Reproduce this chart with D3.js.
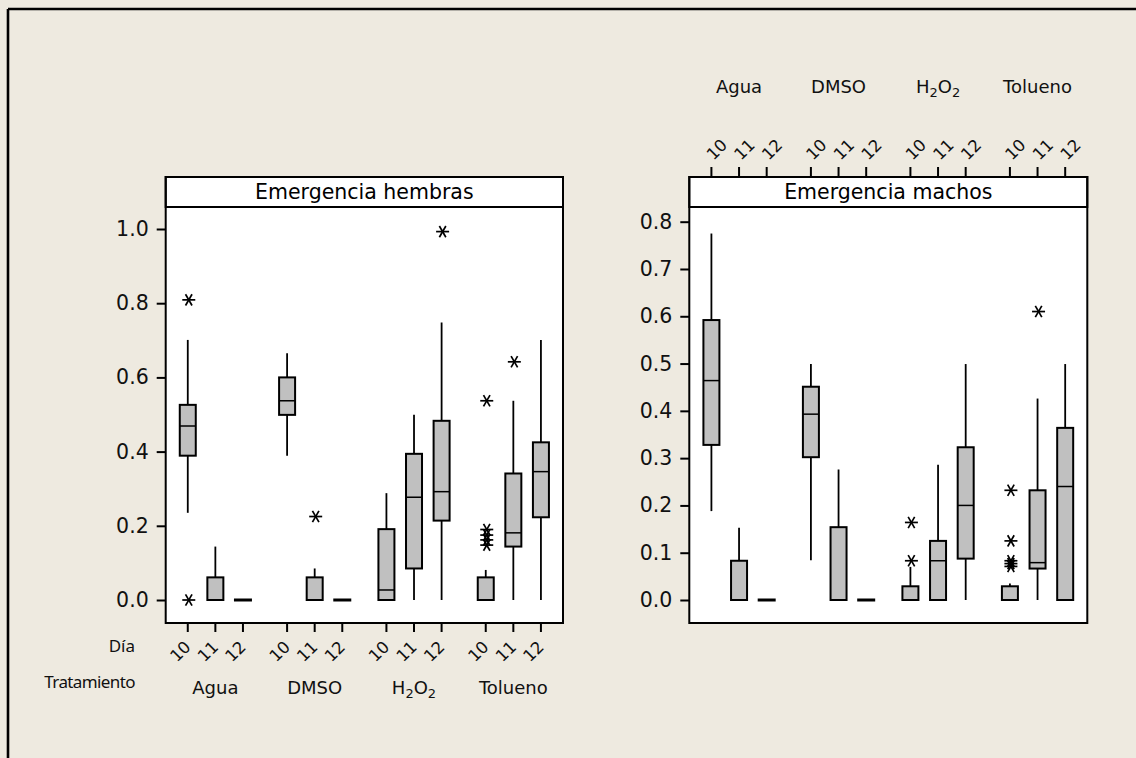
<!DOCTYPE html>
<html>
<head>
<meta charset="utf-8">
<script src="https://cdn.jsdelivr.net/npm/d3@7"></script>
<style>
  body { margin: 0; background: #EEEAE0; }
  svg { display: block; font-family: 'DejaVu Sans', sans-serif; }
</style>
</head>
<body>
<svg width="1136" height="758"></svg>
<script>
const treatments = ['Agua', 'DMSO', 'H2O2', 'Tolueno']
const days = ['10', '11', '12']

// order: Agua 10,11,12, DMSO 10,11,12, H2O2 ..., Tolueno ...
const hembrasLow = [0.235, 0, 0, 0.389, 0, 0, 0, 0, 0, 0, 0, 0]
const hembrasQ1 = [0.389, 0, 0, 0.499, 0, 0, 0, 0.085, 0.214, 0, 0.144, 0.223]
const hembrasMed = [0.469, 0, 0, 0.537, 0, 0, 0.027, 0.277, 0.292, 0, 0.181, 0.346]
const hembrasQ3 = [0.526, 0.061, 0, 0.600, 0.061, 0, 0.191, 0.394, 0.483, 0.061, 0.341, 0.425]
const hembrasHigh = [0.701, 0.144, 0, 0.665, 0.085, 0, 0.288, 0.499, 0.748, 0.081, 0.537, 0.701]
const hembrasOut = [[0.809, 0], [], [], [], [0.225], [], [], [], [0.993],
                    [0.537, 0.19, 0.175, 0.162, 0.148], [0.642], []]
const hembrasTicks = [0, 0.2, 0.4, 0.6, 0.8, 1.0]

const machosLow = [0.188, 0, 0, 0.084, 0, 0, 0, 0, 0, 0, 0, 0]
const machosQ1 = [0.328, 0, 0, 0.302, 0, 0, 0, 0, 0.0875, 0, 0.0665, 0]
const machosMed = [0.464, 0, 0, 0.393, 0, 0, 0, 0.083, 0.2, 0, 0.079, 0.24]
const machosQ3 = [0.592, 0.083, 0, 0.451, 0.154, 0, 0.029, 0.125, 0.323, 0.029, 0.232, 0.364]
const machosHigh = [0.775, 0.153, 0, 0.499, 0.276, 0, 0.07, 0.286, 0.499, 0.035, 0.426, 0.499]
const machosOut = [[], [], [], [], [], [], [0.164, 0.083], [], [],
                   [0.232, 0.125, 0.083, 0.077, 0.071], [0.61], []]
const machosTicks = [0, 0.1, 0.2, 0.3, 0.4, 0.5, 0.6, 0.7, 0.8]

const svg = d3.select('svg')

// outer frame (only left and top edges visible)
svg.append('line').attr('x1', 8).attr('y1', 9).attr('x2', 1136).attr('y2', 9)
   .attr('stroke', '#000').attr('stroke-width', 2.6)
svg.append('line').attr('x1', 8).attr('y1', 9).attr('x2', 8).attr('y2', 758)
   .attr('stroke', '#000').attr('stroke-width', 2.6)

const stripTop = 177
const stripBottom = 207
const panelBottom = 623
const boxWidth = 16

function treatLabel(sel, name) {
  if (name === 'H2O2') {
    sel.append('tspan').text('H')
    sel.append('tspan').attr('font-size', 13).attr('dy', 4).text('2')
    sel.append('tspan').attr('dy', -4).text('O')
    sel.append('tspan').attr('font-size', 13).attr('dy', 4).text('2')
  } else {
    sel.text(name)
  }
}

function drawPanel(opt) {
  const g = svg.append('g')
  const x0 = d3.scaleBand().domain(treatments).range([opt.left, opt.right])
  const xd = d3.scalePoint().domain(days).range([0, x0.bandwidth()]).padding(0.8)
  const y = d3.scaleLinear().domain(opt.domain).range(opt.range)
  const xPos = i => x0(treatments[Math.floor(i / 3)]) + xd(days[i % 3])

  // panel background
  g.append('rect').attr('x', opt.left).attr('y', stripBottom)
   .attr('width', opt.right - opt.left).attr('height', panelBottom - stripBottom)
   .attr('fill', '#fff')
  g.append('rect').attr('x', opt.left).attr('y', stripTop)
   .attr('width', opt.right - opt.left).attr('height', stripBottom - stripTop)
   .attr('fill', '#fff').attr('stroke', '#000').attr('stroke-width', 2)
  g.append('text').attr('x', (opt.left + opt.right) / 2).attr('y', stripBottom - 8)
   .attr('text-anchor', 'middle').attr('font-size', 20.5).text(opt.title)

  // y axis
  const ya = g.append('g').attr('transform', `translate(${opt.left},0)`)
    .call(d3.axisLeft(y).tickValues(opt.ticks).tickFormat(d3.format('.1f'))
      .tickSize(9).tickPadding(8))
  ya.select('.domain').remove()
  ya.selectAll('line').attr('stroke-width', 2)
  ya.selectAll('text').attr('font-size', 20.5).attr('font-family', 'DejaVu Sans')
    .attr('fill', '#111')

  const idx = d3.range(12)
  const lo = opt.low, q1 = opt.q1, md = opt.med, q3 = opt.q3, hi = opt.high

  // whiskers
  g.selectAll('.wh-hi').data(idx.filter(i => hi[i] > q3[i])).enter().append('line')
   .attr('x1', xPos).attr('x2', xPos)
   .attr('y1', i => y(q3[i])).attr('y2', i => y(hi[i]))
   .attr('stroke', '#000').attr('stroke-width', 1.8)
  g.selectAll('.wh-lo').data(idx.filter(i => lo[i] < q1[i])).enter().append('line')
   .attr('x1', xPos).attr('x2', xPos)
   .attr('y1', i => y(q1[i])).attr('y2', i => y(lo[i]))
   .attr('stroke', '#000').attr('stroke-width', 1.8)

  // boxes (flat ones drawn as a thick line)
  g.selectAll('.box').data(idx.filter(i => q3[i] > q1[i])).enter().append('rect')
   .attr('x', i => xPos(i) - boxWidth / 2).attr('width', boxWidth)
   .attr('y', i => y(q3[i])).attr('height', i => y(q1[i]) - y(q3[i]))
   .attr('fill', '#C0C0C0').attr('stroke', '#000').attr('stroke-width', 2)
  g.selectAll('.flat').data(idx.filter(i => q3[i] <= q1[i])).enter().append('line')
   .attr('x1', i => xPos(i) - boxWidth / 2 - 1).attr('x2', i => xPos(i) + boxWidth / 2 + 1)
   .attr('y1', i => y(q1[i])).attr('y2', i => y(q1[i]))
   .attr('stroke', '#000').attr('stroke-width', 3)
  g.selectAll('.med').data(idx.filter(i => md[i] > q1[i] && md[i] < q3[i])).enter().append('line')
   .attr('x1', i => xPos(i) - boxWidth / 2).attr('x2', i => xPos(i) + boxWidth / 2)
   .attr('y1', i => y(md[i])).attr('y2', i => y(md[i]))
   .attr('stroke', '#000').attr('stroke-width', 1.5)

  // outliers as asterisks
  const pts = []
  opt.out.forEach((arr, i) => arr.forEach(v => pts.push({ i, v })))
  const star = g.selectAll('.star').data(pts).enter().append('g')
    .attr('transform', d => `translate(${xPos(d.i) + 1},${y(d.v)})`)
  ;[0, 60, 120].forEach(a => {
    star.append('line').attr('x1', -6.5).attr('x2', 6.5).attr('y1', 0).attr('y2', 0)
      .attr('transform', `rotate(${a})`).attr('stroke', '#000').attr('stroke-width', 1.7)
  })

  // panel frame
  g.append('rect').attr('x', opt.left).attr('y', stripTop)
   .attr('width', opt.right - opt.left).attr('height', panelBottom - stripTop)
   .attr('fill', 'none').attr('stroke', '#000').attr('stroke-width', 2)

  // categorical axis ticks and labels
  const top = opt.axisTop
  const tickY0 = top ? stripTop : panelBottom
  const tickY1 = top ? stripTop - 10 : panelBottom + 9
  g.selectAll('.xt').data(idx).enter().append('line')
   .attr('x1', xPos).attr('x2', xPos).attr('y1', tickY0).attr('y2', tickY1)
   .attr('stroke', '#000').attr('stroke-width', 2)
  g.selectAll('.xl').data(idx).enter().append('text')
   .attr('transform', i => top
     ? `translate(${xPos(i) + 2},${stripTop - 16}) rotate(-45)`
     : `translate(${xPos(i) + 4},${panelBottom + 25}) rotate(-45)`)
   .attr('text-anchor', top ? 'start' : 'end')
   .attr('font-size', 16.5).attr('fill', '#111')
   .text(i => days[i % 3])
  treatments.forEach(t => {
    g.append('text').attr('x', x0(t) + x0.bandwidth() / 2)
     .attr('y', top ? 93 : 694).attr('text-anchor', 'middle')
     .attr('font-size', 18).attr('fill', '#111')
     .call(treatLabel, t)
  })
}

drawPanel({
  left: 165.7, right: 563, title: 'Emergencia hembras',
  domain: [0, 1], range: [600, 229], ticks: hembrasTicks,
  low: hembrasLow, q1: hembrasQ1, med: hembrasMed, q3: hembrasQ3, high: hembrasHigh,
  out: hembrasOut, axisTop: false
})

drawPanel({
  left: 689.3, right: 1087.3, title: 'Emergencia machos',
  domain: [0, 0.8], range: [600, 221.7], ticks: machosTicks,
  low: machosLow, q1: machosQ1, med: machosMed, q3: machosQ3, high: machosHigh,
  out: machosOut, axisTop: true
})

// row labels for the bottom axis
svg.append('text').attr('x', 135).attr('y', 652).attr('text-anchor', 'end')
   .attr('font-family', 'Noto Sans').attr('font-size', 17).attr('fill', '#111').text('Día')
svg.append('text').attr('x', 135).attr('y', 688).attr('text-anchor', 'end')
   .attr('font-family', 'Noto Sans').attr('font-size', 17).attr('letter-spacing', -0.6)
   .attr('fill', '#111').text('Tratamiento')
</script>
</body>
</html>
